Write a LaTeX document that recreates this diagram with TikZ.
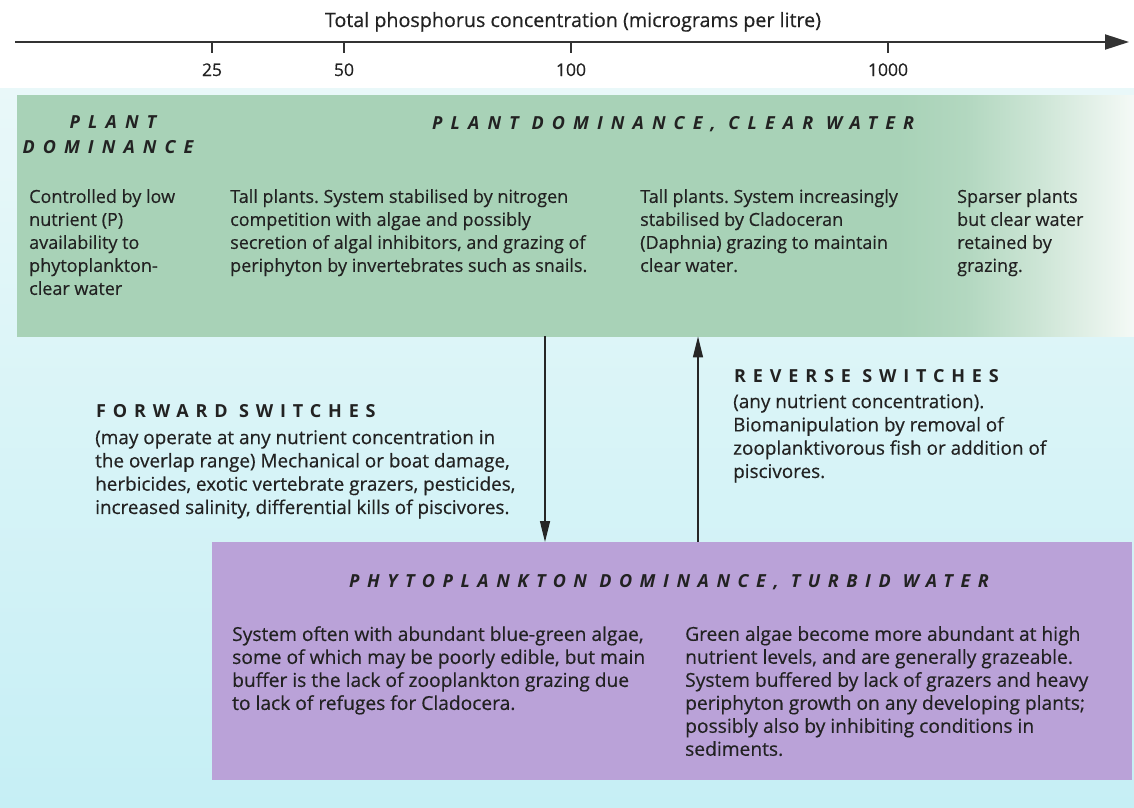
\documentclass[tikz,border=0pt]{standalone}
\usepackage{fontspec}
\setmainfont[FakeBold=0.4]{Open Sans}
\newfontfamily\hdrfont[LetterSpace=45]{Open Sans}
\newfontfamily\swfont[LetterSpace=38]{Open Sans}
\newfontfamily\purhdrfont[LetterSpace=42]{Open Sans}
\usetikzlibrary{arrows.meta}
\frenchspacing
\definecolor{plantgreen}{HTML}{A8D2B7}
\definecolor{turbidpurple}{HTML}{BAA2D8}
\definecolor{watertop}{HTML}{E9F8F9}
\definecolor{waterbot}{HTML}{C6EFF5}
\definecolor{ink}{HTML}{222222}
% whole plant box: 25bp = x 17, 75bp = x 1134
\pgfdeclarehorizontalshading{plantfade}{100bp}{color(0bp)=(plantgreen); color(25bp)=(plantgreen); color(64.4bp)=(plantgreen); color(67.5bp)=(plantgreen!88!white); color(70.7bp)=(plantgreen!58!white); color(75bp)=(plantgreen!12!white); color(100bp)=(plantgreen!12!white)}
\tikzset{
  toptxt/.style={anchor=north west, inner sep=0pt, align=left, text=ink,
    font=\fontsize{18}{23}\selectfont},
  midtxt/.style={anchor=north west, inner sep=0pt, align=left, text=ink,
    font=\fontsize{18.9}{23.3}\selectfont},
  purtxt/.style={anchor=north west, inner sep=0pt, align=left, text=ink,
    font=\fontsize{19.2}{23}\selectfont},
  boxhead/.style={anchor=base west, inner sep=0pt, text=ink,
    font=\hdrfont\bfseries\itshape\fontsize{18}{22}\selectfont},
  purhead/.style={anchor=base west, inner sep=0pt, text=ink,
    font=\purhdrfont\bfseries\itshape\fontsize{18}{22}\selectfont},
  switchhead/.style={anchor=base west, inner sep=0pt, text=ink,
    font=\swfont\bfseries\fontsize{18}{22}\selectfont},
  ticklabel/.style={anchor=base, inner sep=0pt, text=ink,
    font=\fontsize{17.5}{20}\selectfont},
  switcharrow/.style={line width=1.3pt, draw=black!85,
    -{Triangle[length=21pt,width=10pt]}},
}
\begin{document}
\begin{tikzpicture}[x=1pt,y=-1pt]
\useasboundingbox (0,0) rectangle (1134,807);
% background
\fill[white] (0,0) rectangle (1134,807);
\shade[top color=watertop, bottom color=waterbot] (0,88) rectangle (1134,807);
% plant box
\node[anchor=north west, inner sep=0pt, minimum width=1117pt, minimum height=241pt, shading=plantfade] (plant) at (17,95) {};
% turbid box
\node[anchor=north west, inner sep=0pt, fill=turbidpurple, minimum width=920pt, minimum height=238pt] (turbid) at (212,542) {};

% axis
\coordinate (axstart) at (15,42);
\coordinate (axend) at (1129,42);
\draw[line width=2pt, draw=black!80, -{Triangle[length=24pt,width=15pt]}] (axstart) -- (axend);
\node[anchor=base, inner sep=0pt, text=ink, font=\fontsize{19.7}{22}\selectfont] (axtitle) at (573,27) {Total phosphorus concentration (micrograms per litre)};
\foreach \xx/\lab/\nm in {212/25/a, 344/50/b, 571/100/c, 888/1000/d}{
  \draw[line width=1.2pt, draw=black!80] (\xx,42) -- (\xx,53);
  \node[ticklabel] (tick\nm) at (\xx,76) {\lab};
}

% plant box headings
\node[anchor=base, inner sep=0pt, text=ink, font=\hdrfont\bfseries\itshape\fontsize{18}{22}\selectfont] (ph1) at (113,128) {PLANT};
\node[anchor=base, inner sep=0pt, text=ink, font=\hdrfont\bfseries\itshape\fontsize{18}{22}\selectfont] (ph2) at (108,153) {DOMINANCE};
\node[boxhead] (ph3) at (432,129) {PLANT DOMINANCE, CLEAR WATER};

% plant box columns
\node[toptxt] (c1) at (29,189) {Controlled by low\\nutrient (P)\\availability to\\phytoplankton-\\clear water};
\node[toptxt] (c2) at (230,189) {Tall plants. System stabilised by nitrogen\\competition with algae and possibly\\secretion of algal inhibitors, and grazing of\\periphyton by invertebrates such as snails.};
\node[toptxt] (c3) at (640,189) {Tall plants. System increasingly\\stabilised by Cladoceran\\(Daphnia) grazing to maintain\\clear water.};
\node[toptxt] (c4) at (957,189) {Sparser plants\\but clear water\\retained by\\grazing.};

% switches
\coordinate (fwdx) at (545,0);
\coordinate (revx) at (698,0);
\draw[switcharrow] (plant.south -| fwdx) -- (turbid.north -| fwdx);
\draw[switcharrow] (turbid.north -| revx) -- (plant.south -| revx);

\node[switchhead] (fwdh) at (96,417) {FORWARD SWITCHES};
\node[midtxt] (fwdt) at (95,430) {(may operate at any nutrient concentration in\\the overlap range) Mechanical or boat damage,\\herbicides, exotic vertebrate grazers, pesticides,\\increased salinity, differential kills of piscivores.};
\node[switchhead] (revh) at (734,382) {REVERSE SWITCHES};
\node[midtxt] (revt) at (733,394) {(any nutrient concentration).\\Biomanipulation by removal of\\zooplanktivorous fish or addition of\\piscivores.};

% turbid box text
\node[purhead] (th) at (349,587) {PHYTOPLANKTON DOMINANCE, TURBID WATER};
\node[purtxt] (t1) at (232,626) {System often with abundant blue-green algae,\\some of which may be poorly edible, but main\\buffer is the lack of zooplankton grazing due\\to lack of refuges for Cladocera.};
\node[purtxt] (t2) at (685,626) {Green algae become more abundant at high\\nutrient levels, and are generally grazeable.\\System buffered by lack of grazers and heavy\\periphyton growth on any developing plants;\\possibly also by inhibiting conditions in\\sediments.};
\end{tikzpicture}
\end{document}
